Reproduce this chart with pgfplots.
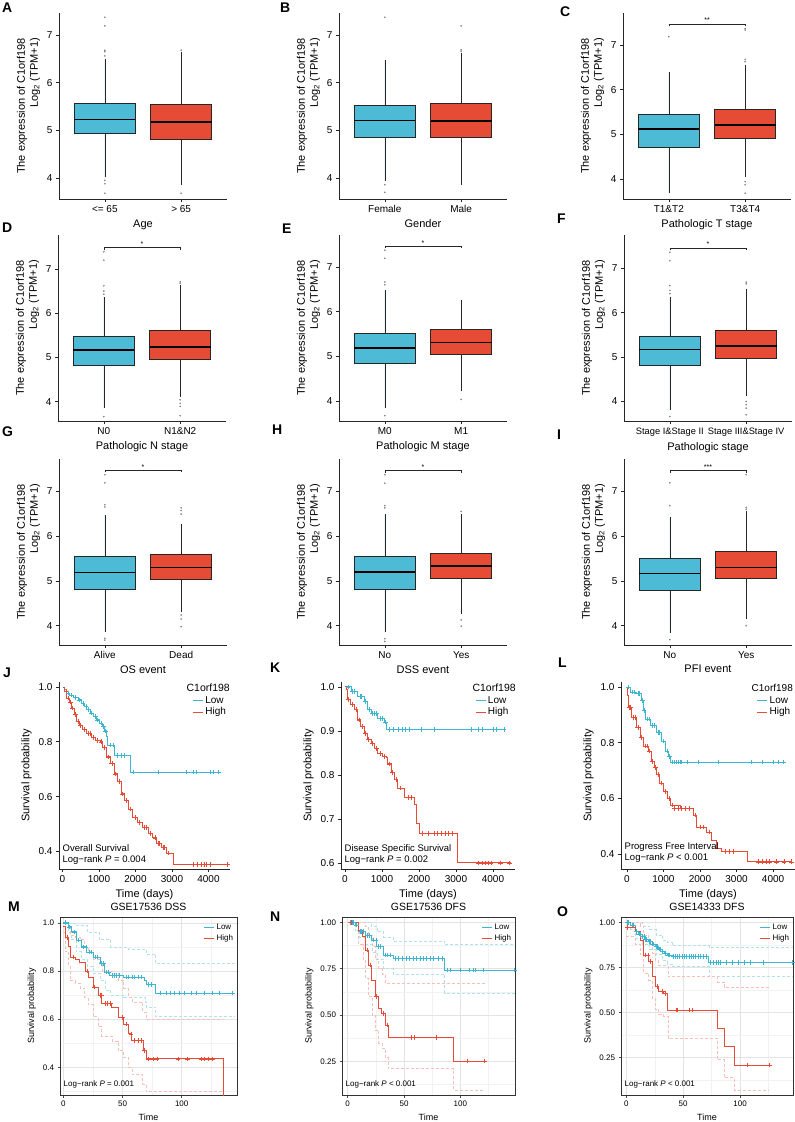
\documentclass[border=0pt]{standalone}
\usepackage{fontspec}
\setmainfont{Liberation Sans}
\usepackage{pgfplots}
\pgfplotsset{compat=1.18}
\usepgfplotslibrary{statistics}
\definecolor{npgred}{HTML}{E64B35}
\definecolor{npgblue}{HTML}{4DBBD5}
\definecolor{kmblue}{HTML}{3DB4D0}
\definecolor{kmred}{HTML}{E64B35}
\newcommand{\fs}[2]{\fontsize{#1}{#2}\selectfont}
\pgfplotsset{
  boxplot/every median/.style={line width=1.5pt, draw=black},
  boxplot/every whisker/.style={line width=0.6pt, draw=black!85},
  boxplot/every box/.style={line width=0.6pt, draw=black!85},
  bx/.style={
    scale only axis, width=168pt, height=186pt, anchor=south west,
    axis x line=bottom, axis y line=left,
    axis line style={-, line width=0.6pt, black!85},
    xmin=-0.6, xmax=1.6, xtick={0,1}, ytick={4,5,6,7},
    tick align=outside, major tick length=3pt,
    tick style={line width=0.6pt, black!85},
    tick label style={font=\fs{10}{12}},
    label style={font=\fs{11}{13}},
    ylabel={The expression of C1orf198\\Log\textsubscript{2} (TPM+1)},
    ylabel style={align=right},
    /pgf/number format/assume math mode=true,
    clip=false,
  },
  km/.style={
    scale only axis, height=187pt, anchor=south west,
    axis x line=bottom, axis y line=left,
    axis line style={-, line width=0.6pt, black!85},
    tick align=outside, major tick length=3pt, tick style={line width=0.6pt, black!85},
    xtick={0,1000,2000,3000,4000},
    scaled x ticks=false,
    xticklabel style={/pgf/number format/1000 sep={}},
    yticklabel style={/pgf/number format/.cd, fixed, fixed zerofill, precision=1},
    tick label style={font=\fs{10}{12}},
    label style={font=\fs{11}{13}},
    xlabel={Time (days)}, ylabel={Survival probability},
    /pgf/number format/assume math mode=true,
    legend style={draw=none, fill=none, font=\fs{10}{11}, inner sep=0pt, row sep=-1pt, anchor=north west},
    legend cell align=left,
    legend image code/.code={\draw[##1, line width=0.8pt] (0pt,0pt) -- (10pt,0pt);},
  },
  km2/.style={
    scale only axis, height=178pt, anchor=south west,
    axis line style={line width=0.6pt, black!80},
    grid=both, major grid style={gray!22, line width=0.5pt}, minor grid style={gray!10, line width=0.4pt},
    tick pos=left, tick align=outside, major tick length=2.5pt, minor tick length=0pt,
    tick style={line width=0.5pt, black!70},
    xtick={0,50,100}, minor xtick={25,75,125},
    tick label style={font=\fs{8}{9}},
    label style={font=\fs{9}{10}},
    title style={font=\fs{10.5}{12}, yshift=-3pt},
    xlabel={Time}, ylabel={Survival probability},
    /pgf/number format/assume math mode=true,
    legend style={draw=none, fill=none, font=\fs{8}{9}, inner sep=0pt, row sep=0pt, at={(rel axis cs:0.99,0.975)}, anchor=north east},
    legend cell align=left,
    legend image code/.code={\draw[##1, line width=0.8pt] (0pt,0pt) -- (10pt,0pt);},
  },
  kmline/.style={const plot, line width=0.8pt, draw=#1, color=#1, mark=none},
  kmcens/.style={only marks, mark=+, mark size=2.3pt, color=#1, mark options={draw=#1, line width=0.5pt}, forget plot},
  ci/.style={const plot, dash pattern=on 3pt off 2pt, line width=0.5pt, color=#1, forget plot, mark=none},
}
\newcommand{\bxp}[8]{\addplot[boxplot/draw direction=y, boxplot prepared={draw position=#1, lower whisker=#3, lower quartile=#4, median=#5, upper quartile=#6, upper whisker=#7, box extend=0.8, whisker extend=0}, fill=#2, draw=black!85, line width=0.6pt, mark=*, mark size=0.75pt, mark options={draw=gray, fill=gray, line width=0.1pt}] coordinates {#8};}
\newcommand{\sig}[3]{\addplot[black!85, line width=0.5pt, mark=none] coordinates {(0,#1)(0,#2)(1,#2)(1,#1)};
  \node[font=\fs{7}{8}, anchor=south, inner sep=1pt] at (axis cs:0.5,#2) {#3};}
\newcommand{\plab}[3]{\node[font=\bfseries\fs{14}{16}, anchor=north west, inner sep=0pt] at (#1pt,-#2pt) {#3};}
\begin{document}
\begin{tikzpicture}
\useasboundingbox (0pt,0pt) rectangle (795pt,-1122pt);
% ---------------- Row 1 ----------------
\begin{axis}[bx, at={(59pt,-199pt)}, ymin=3.56, ymax=7.46, xticklabels={<= 65, > 65}, xlabel={Age}]
\bxp{0}{npgblue}{4.02}{4.93}{5.23}{5.56}{6.5}{(0,7.37)(0,7.19)(0,6.68)(0,6.65)(0,6.56)(0,3.95)(0,3.88)(0,3.68)}
\bxp{1}{npgred}{3.85}{4.81}{5.17}{5.54}{6.65}{(1,6.68)(1,3.68)}
\end{axis}
\begin{axis}[bx, at={(339pt,-199pt)}, ymin=3.56, ymax=7.46, xticklabels={Female, Male}, xlabel={Gender}]
\bxp{0}{npgblue}{3.93}{4.86}{5.21}{5.53}{6.48}{(0,7.37)(0,3.86)(0,3.70)}
\bxp{1}{npgred}{3.86}{4.86}{5.20}{5.57}{6.62}{(1,7.19)(1,6.69)(1,6.66)}
\end{axis}
\begin{axis}[bx, at={(623pt,-199pt)}, ymin=3.55, ymax=7.72, xticklabels={T1\&T2, T3\&T4}, xlabel={Pathologic T stage}]
\bxp{0}{npgblue}{3.69}{4.72}{5.12}{5.45}{6.40}{(0,7.19)}
\bxp{1}{npgred}{4.05}{4.91}{5.21}{5.57}{6.55}{(1,7.37)(1,7.34)(1,6.68)(1,6.63)(1,3.94)(1,3.87)(1,3.68)}
\sig{7.42}{7.47}{**}
\end{axis}
% ---------------- Row 2 ----------------
\begin{axis}[bx, at={(58pt,-421pt)}, ymin=3.56, ymax=7.77, xticklabels={N0, N1\&N2}, xlabel={Pathologic N stage}]
\bxp{0}{npgblue}{3.85}{4.81}{5.17}{5.47}{6.37}{(0,7.39)(0,7.2)(0,6.62)(0,6.5)(0,6.43)(0,3.66)}
\bxp{1}{npgred}{4.11}{4.96}{5.24}{5.61}{6.64}{(1,6.71)(1,6.68)(1,4.04)(1,3.96)(1,3.89)(1,3.68)}
\sig{7.43}{7.49}{*}
\end{axis}
\begin{axis}[bx, at={(339pt,-421pt)}, ymin=3.56, ymax=7.71, xticklabels={M0, M1}, xlabel={Pathologic M stage}]
\bxp{0}{npgblue}{3.84}{4.85}{5.19}{5.52}{6.48}{(0,7.37)(0,7.19)(0,6.66)(0,6.6)(0,3.68)}
\bxp{1}{npgred}{4.22}{5.04}{5.31}{5.60}{6.25}{(1,4.04)}
\sig{7.41}{7.46}{*}
\end{axis}
\begin{axis}[bx, at={(624pt,-421pt)}, ymin=3.56, ymax=7.75, xticklabels={Stage I\&Stage II, Stage III\&Stage IV}, xlabel={Pathologic stage}, xticklabel style={font=\fs{9.3}{11}}]
\bxp{0}{npgblue}{3.81}{4.81}{5.17}{5.46}{6.35}{(0,7.36)(0,7.17)(0,6.61)(0,6.5)(0,6.43)(0,3.66)}
\bxp{1}{npgred}{4.13}{4.97}{5.25}{5.60}{6.54}{(1,6.69)(1,6.65)(1,4.0)(1,3.93)(1,3.85)(1,3.7)}
\sig{7.41}{7.46}{*}
\end{axis}
% ---------------- Row 3 ----------------
\begin{axis}[bx, at={(59pt,-645pt)}, ymin=3.57, ymax=7.72, xticklabels={Alive, Dead}, xlabel={OS event}]
\bxp{0}{npgblue}{3.87}{4.81}{5.19}{5.54}{6.48}{(0,7.37)(0,7.19)(0,6.7)(0,6.65)(0,3.72)(0,3.68)}
\bxp{1}{npgred}{4.31}{5.04}{5.30}{5.60}{6.27}{(1,6.63)(1,6.57)(1,6.49)(1,4.24)(1,4.15)(1,3.98)}
\sig{7.42}{7.47}{*}
\end{axis}
\begin{axis}[bx, at={(339pt,-645pt)}, ymin=3.57, ymax=7.72, xticklabels={No, Yes}, xlabel={DSS event}]
\bxp{0}{npgblue}{3.85}{4.82}{5.20}{5.54}{6.49}{(0,7.37)(0,7.18)(0,6.68)(0,6.63)(0,3.71)(0,3.65)}
\bxp{1}{npgred}{4.26}{5.05}{5.33}{5.61}{6.49}{(1,6.55)(1,4.13)(1,3.99)}
\sig{7.41}{7.46}{*}
\end{axis}
\begin{axis}[bx, at={(624pt,-645pt)}, ymin=3.57, ymax=7.72, xticklabels={No, Yes}, xlabel={PFI event}]
\bxp{0}{npgblue}{3.84}{4.79}{5.16}{5.50}{6.42}{(0,7.19)(0,6.68)(0,3.69)}
\bxp{1}{npgred}{4.15}{5.05}{5.30}{5.65}{6.57}{(1,7.37)(1,6.64)(1,6.6)(1,4.0)}
\sig{7.41}{7.46}{***}
\end{axis}
% ---------------- Row 4 ----------------
\begin{axis}[km, at={(59pt,-869pt)}, width=171pt, xmin=-96, xmax=4590, ymin=0.336, ymax=1.018, ytick={0.4,0.6,0.8,1.0},
  legend style={at={(rel axis cs:0.78,0.935)}}]
\addplot[kmline=kmblue] coordinates {(0,1.0)(60,0.99)(115,0.978)(200,0.97)(300,0.962)(433,0.953)(520,0.94)(600,0.928)(663,0.917)(760,0.905)(850,0.893)(937,0.88)(1000,0.868)(1080,0.855)(1150,0.84)(1211,0.818)(1237,0.788)(1420,0.75)(1850,0.69)(4320,0.69)};
\addlegendentry{Low}
\addplot[kmline=kmred] coordinates {(0,1.0)(50,0.985)(115,0.96)(180,0.945)(252,0.923)(320,0.9)(389,0.874)(450,0.86)(550,0.845)(663,0.83)(800,0.815)(900,0.805)(1028,0.8)(1100,0.78)(1211,0.745)(1300,0.72)(1420,0.683)(1500,0.655)(1603,0.61)(1700,0.585)(1800,0.555)(1923,0.524)(2050,0.505)(2197,0.487)(2350,0.465)(2471,0.45)(2580,0.43)(2700,0.415)(2855,0.394)(3036,0.353)(4530,0.353)};
\addlegendentry{High}
\addplot[kmcens=kmblue] coordinates {(150,0.978)(250,0.97)(350,0.962)(470,0.953)(560,0.94)(640,0.928)(700,0.917)(800,0.905)(900,0.893)(960,0.88)(1050,0.868)(1120,0.855)(1180,0.84)(1300,0.788)(1380,0.788)(1500,0.75)(1600,0.75)(1700,0.75)(1940,0.69)(2625,0.69)(3400,0.69)(3585,0.69)(3675,0.69)(4040,0.69)(4130,0.69)(4270,0.69)};
\addplot[kmcens=kmred] coordinates {(100,0.985)(150,0.96)(220,0.945)(280,0.923)(350,0.9)(420,0.874)(500,0.86)(600,0.845)(700,0.83)(750,0.83)(850,0.815)(950,0.805)(1050,0.8)(1150,0.78)(1250,0.745)(1350,0.72)(1450,0.683)(1550,0.655)(1650,0.61)(1750,0.585)(1850,0.555)(2000,0.524)(2100,0.505)(2250,0.487)(2300,0.487)(2400,0.465)(2530,0.45)(2620,0.43)(2650,0.43)(2750,0.415)(2800,0.415)(2900,0.394)(3584,0.353)(3700,0.353)(3812,0.353)(3880,0.353)(3931,0.353)(4059,0.353)(4520,0.353)};
\node[anchor=west, font=\fs{10.5}{12}, inner sep=0pt] at (rel axis cs:0.745,0.968) {C1orf198};
\node[anchor=south west, align=left, font=\fs{9.5}{11}, inner sep=0pt] at (rel axis cs:0.02,0.025) {Overall Survival\\Log−rank \textit{P} = 0.004};
\end{axis}
\begin{axis}[km, at={(341pt,-869pt)}, width=174pt, xmin=-108, xmax=4595, ymin=0.586, ymax=1.011, ytick={0.6,0.7,0.8,0.9,1.0},
  legend style={at={(rel axis cs:0.77,0.935)}}]
\addplot[kmline=kmblue] coordinates {(0,1.0)(162,0.99)(343,0.978)(523,0.967)(613,0.948)(703,0.94)(883,0.928)(1063,0.92)(1108,0.903)(4310,0.903)};
\addlegendentry{Low}
\addplot[kmline=kmred] coordinates {(0,1.0)(40,0.994)(72,0.971)(150,0.96)(252,0.948)(343,0.925)(420,0.91)(523,0.894)(600,0.88)(703,0.871)(800,0.86)(883,0.848)(1000,0.842)(1108,0.84)(1153,0.825)(1243,0.805)(1330,0.79)(1423,0.77)(1603,0.748)(1874,0.732)(1919,0.69)(2009,0.667)(3045,0.6)(4490,0.6)};
\addlegendentry{High}
\addplot[kmcens=kmblue] coordinates {(80,1.0)(200,0.99)(250,0.99)(400,0.978)(450,0.978)(560,0.967)(650,0.948)(750,0.94)(800,0.94)(850,0.94)(950,0.928)(1000,0.928)(1100,0.92)(1200,0.903)(1300,0.903)(1450,0.903)(1550,0.903)(1620,0.903)(1750,0.903)(2050,0.903)(2400,0.903)(3400,0.903)(3600,0.903)(3700,0.903)(4000,0.903)(4100,0.903)(4300,0.903)};
\addplot[kmcens=kmred] coordinates {(100,0.971)(200,0.96)(300,0.948)(380,0.925)(460,0.91)(560,0.894)(640,0.88)(750,0.871)(850,0.86)(950,0.848)(1050,0.842)(1200,0.825)(1280,0.805)(1380,0.79)(1500,0.77)(1700,0.748)(1800,0.748)(2100,0.667)(2250,0.667)(2400,0.667)(2500,0.667)(2600,0.667)(2700,0.667)(2800,0.667)(2900,0.667)(3600,0.6)(3700,0.6)(3800,0.6)(3870,0.6)(3950,0.6)(4200,0.6)(4450,0.6)};
\node[anchor=west, font=\fs{10.5}{12}, inner sep=0pt] at (rel axis cs:0.755,0.968) {C1orf198};
\node[anchor=south west, align=left, font=\fs{9.5}{11}, inner sep=0pt] at (rel axis cs:0.02,0.025) {Disease Specific Survival\\Log−rank \textit{P} = 0.002};
\end{axis}
\begin{axis}[km, at={(621pt,-869pt)}, width=174pt, xmin=-159, xmax=4600, ymin=0.346, ymax=1.018, ytick={0.4,0.6,0.8,1.0},
  legend style={at={(rel axis cs:0.78,0.935)}}]
\addplot[kmline=kmblue] coordinates {(0,1.0)(88,0.982)(271,0.976)(408,0.952)(452,0.915)(499,0.885)(636,0.861)(819,0.836)(956,0.806)(1047,0.77)(1137,0.75)(1184,0.73)(4290,0.73)};
\addlegendentry{Low}
\addplot[kmline=kmred] coordinates {(0,1.0)(10,0.994)(20,0.97)(41,0.927)(134,0.89)(271,0.855)(362,0.818)(452,0.788)(589,0.77)(682,0.733)(750,0.71)(819,0.685)(900,0.655)(1000,0.624)(1100,0.6)(1184,0.576)(1458,0.564)(1822,0.54)(1915,0.497)(2189,0.479)(2326,0.448)(2463,0.42)(2600,0.41)(3285,0.372)(4518,0.372)};
\addlegendentry{High}
\addplot[kmcens=kmblue] coordinates {(50,1.0)(150,0.982)(200,0.982)(300,0.976)(350,0.976)(430,0.952)(470,0.915)(550,0.885)(600,0.885)(700,0.861)(750,0.861)(850,0.836)(900,0.836)(1000,0.806)(1100,0.77)(1160,0.75)(1250,0.73)(1300,0.73)(1350,0.73)(1400,0.73)(1450,0.73)(1500,0.73)(1650,0.73)(1950,0.73)(2500,0.73)(3400,0.73)(3700,0.73)(4000,0.73)(4150,0.73)(4290,0.73)};
\addplot[kmcens=kmred] coordinates {(60,0.927)(100,0.927)(180,0.89)(220,0.89)(300,0.855)(400,0.818)(500,0.788)(550,0.788)(620,0.77)(700,0.733)(780,0.71)(850,0.685)(950,0.655)(1050,0.624)(1150,0.6)(1250,0.576)(1300,0.564)(1400,0.564)(1500,0.564)(1600,0.564)(1700,0.564)(1870,0.54)(2000,0.497)(2100,0.497)(2250,0.479)(2700,0.41)(2800,0.41)(2900,0.41)(3600,0.372)(3700,0.372)(3800,0.372)(3900,0.372)(4100,0.372)(4300,0.372)(4500,0.372)};
\node[anchor=west, font=\fs{10}{12}, inner sep=0pt] at (rel axis cs:0.75,0.968) {C1orf198};
\node[anchor=south west, align=left, font=\fs{9.5}{11}, inner sep=0pt] at (rel axis cs:0.02,0.035) {Progress Free Interval\\Log−rank \textit{P} < 0.001};
\end{axis}
% ---------------- Row 5 ----------------
\begin{axis}[km2, at={(60pt,-1095pt)}, width=177pt, xmin=-2.8, xmax=146.7, ymin=0.285, ymax=1.024,
  ytick={0.4,0.6,0.8,1.0}, minor ytick={0.3,0.5,0.7,0.9}, title={GSE17536 DSS},
  yticklabel style={/pgf/number format/.cd, fixed, fixed zerofill, precision=1}]
\addplot[ci=kmblue!40] coordinates {(0,1.0)(10,0.99)(20,0.96)(30,0.93)(40,0.9)(55,0.89)(70,0.87)(78,0.83)(145,0.83)};
\addplot[ci=kmblue!40] coordinates {(0,1.0)(4,0.96)(7,0.93)(11,0.88)(15,0.85)(20,0.82)(25,0.79)(31,0.76)(35,0.72)(40,0.7)(51,0.69)(69,0.67)(70,0.65)(78,0.61)(145,0.61)};
\addplot[ci=kmred!35] coordinates {(0,1.0)(4,0.98)(6,0.95)(10,0.94)(14,0.93)(18,0.9)(21,0.88)(25,0.85)(30,0.83)(33,0.8)(41,0.79)(46,0.76)(51,0.73)(55,0.69)(58,0.67)(67,0.63)(70,0.6)(135,0.6)};
\addplot[ci=kmred!35] coordinates {(0,0.96)(1.4,0.88)(4.2,0.82)(5.6,0.76)(10,0.75)(14,0.73)(18,0.69)(21,0.66)(25,0.61)(29.5,0.57)(32.3,0.53)(41,0.51)(46,0.47)(51,0.44)(55,0.4)(58,0.37)(67,0.33)(70,0.3)(135,0.3)};
\addplot[kmline=kmblue] coordinates {(0,1.0)(4.2,0.983)(7,0.9625)(11.2,0.928)(15.4,0.9)(19.7,0.879)(25.3,0.858)(30.9,0.83)(35.1,0.796)(39.3,0.782)(50.6,0.775)(68.8,0.761)(70.2,0.743)(78,0.708)(144.7,0.708)};
\addlegendentry{Low}
\addplot[kmline=kmred] coordinates {(0,0.986)(1.4,0.94)(4.2,0.9)(5.6,0.858)(9.8,0.85)(14,0.837)(18.3,0.8)(21,0.775)(25.3,0.733)(29.5,0.699)(32.3,0.664)(40.7,0.65)(46.3,0.608)(50.6,0.58)(54.8,0.539)(57.6,0.511)(67.4,0.469)(70.2,0.435)(135.4,0.25)};
\addlegendentry{High}
\addplot[kmcens=kmblue] coordinates {(2,1.0)(5,0.983)(9,0.9625)(13,0.928)(17,0.9)(19,0.9)(22,0.879)(24,0.879)(27,0.858)(29,0.858)(32,0.83)(34,0.83)(36,0.796)(38,0.796)(41,0.782)(43,0.782)(45,0.782)(47,0.782)(53,0.775)(55,0.775)(58,0.775)(60,0.775)(63,0.775)(66,0.775)(72,0.743)(74,0.743)(81.5,0.708)(87,0.708)(90,0.708)(94,0.708)(98,0.708)(102.5,0.708)(108,0.708)(112,0.708)(119,0.708)(126,0.708)(132,0.708)(143,0.708)};
\addplot[kmcens=kmred] coordinates {(3,0.94)(8,0.858)(20,0.8)(26,0.733)(31,0.699)(32,0.699)(35,0.664)(37,0.664)(40,0.664)(50,0.608)(53,0.58)(57,0.539)(60,0.511)(63,0.511)(66,0.511)(68,0.469)(72,0.435)(76,0.435)(79,0.435)(97,0.435)(105,0.435)(116.6,0.435)(119,0.435)(122,0.435)(126,0.435)};
\node[anchor=south west, font=\fs{8}{9}, inner sep=0pt] at (rel axis cs:0.02,0.035) {Log−rank \textit{P} = 0.001};
\end{axis}
\begin{axis}[km2, at={(342pt,-1095pt)}, width=173pt, xmin=-5, xmax=148.4, ymin=0.068, ymax=1.029,
  ytick={0.25,0.5,0.75,1.0}, minor ytick={0.125,0.375,0.625,0.875}, title={GSE17536 DFS},
  yticklabel style={/pgf/number format/.cd, fixed, fixed zerofill, precision=2}]
\addplot[ci=kmblue!40] coordinates {(0,1.0)(21,0.98)(26,0.95)(32,0.92)(40,0.9)(86,0.88)(148,0.88)};
\addplot[ci=kmblue!40] coordinates {(0,1.0)(7,0.96)(10,0.92)(16,0.88)(21.5,0.84)(26,0.8)(32,0.75)(40.6,0.72)(86,0.62)(148,0.62)};
\addplot[ci=kmred!35] coordinates {(0,1.0)(15.6,0.98)(18.5,0.93)(21.5,0.87)(24.4,0.8)(27.4,0.75)(30.3,0.72)(33.2,0.67)(121.5,0.67)};
\addplot[ci=kmred!35] coordinates {(0,1.0)(9.7,0.88)(13.5,0.8)(15.6,0.7)(18.5,0.6)(21.5,0.5)(24.4,0.42)(27.4,0.35)(30.3,0.32)(33.2,0.27)(36.2,0.21)(94,0.095)(121.5,0.095)};
\addplot[kmline=kmblue] coordinates {(0,1.0)(6.8,0.986)(9.7,0.95)(15.6,0.93)(21.5,0.905)(25.9,0.87)(31.8,0.824)(40.6,0.806)(86.2,0.743)(148,0.743)};
\addlegendentry{Low}
\addplot[kmline=kmred] coordinates {(0,1.0)(9.7,0.959)(13.5,0.923)(15.6,0.851)(18.5,0.77)(21.5,0.689)(24.4,0.6)(27.4,0.536)(30.3,0.509)(33.2,0.446)(36.2,0.38)(94,0.252)(121.5,0.252)};
\addlegendentry{High}
\addplot[kmcens=kmblue] coordinates {(2,1.0)(4,1.0)(5,1.0)(8,0.986)(11,0.95)(12,0.95)(14,0.95)(17,0.93)(19,0.93)(23,0.905)(25,0.905)(27,0.87)(29,0.87)(33,0.824)(35,0.824)(38,0.824)(42,0.806)(45,0.806)(48,0.806)(52,0.806)(55,0.806)(58,0.806)(61,0.806)(64,0.806)(67,0.806)(70,0.806)(73,0.806)(76,0.806)(80,0.806)(84,0.806)(88,0.743)(91,0.743)(100,0.743)(108,0.743)(111,0.743)(113,0.743)(120,0.743)(148,0.743)};
\addplot[kmcens=kmred] coordinates {(3,1.0)(17,0.851)(20,0.77)(25,0.6)(32,0.509)(35,0.446)(56,0.38)(59,0.38)(79,0.38)(106,0.252)(121.5,0.252)};
\node[anchor=south west, font=\fs{8}{9}, inner sep=0pt] at (rel axis cs:0.02,0.035) {Log−rank \textit{P} < 0.001};
\end{axis}
\begin{axis}[km2, at={(621pt,-1095pt)}, width=172pt, xmin=-4.6, xmax=146.5, ymin=0.043, ymax=1.029,
  ytick={0.25,0.5,0.75,1.0}, minor ytick={0.125,0.375,0.625,0.875}, title={GSE14333 DFS},
  yticklabel style={/pgf/number format/.cd, fixed, fixed zerofill, precision=2}]
\addplot[ci=kmblue!40] coordinates {(0,1.0)(14,0.98)(20,0.96)(26,0.93)(32,0.9)(36,0.89)(40,0.87)(72.6,0.86)(148,0.86)};
\addplot[ci=kmblue!40] coordinates {(0,1.0)(3.5,0.96)(8,0.91)(14,0.88)(20,0.85)(26,0.82)(32,0.79)(36,0.77)(40,0.755)(72.6,0.70)(148,0.70)};
\addplot[ci=kmred!35] coordinates {(0,1.0)(12.4,0.98)(15.3,0.93)(19.7,0.9)(22.6,0.83)(25.6,0.79)(28.5,0.76)(36.5,0.7)(80,0.67)(86,0.64)(125.6,0.64)};
\addplot[ci=kmred!35] coordinates {(0,0.92)(7.9,0.88)(12.4,0.82)(15.3,0.72)(19.7,0.68)(22.6,0.58)(25.6,0.52)(28.5,0.49)(32.9,0.48)(36.5,0.36)(80,0.24)(86,0.14)(95,0.07)(125.6,0.07)};
\addplot[kmline=kmblue] coordinates {(0,1.0)(3.5,0.985)(7.9,0.948)(10.8,0.934)(13.8,0.92)(16.7,0.906)(19.7,0.893)(22.6,0.879)(25.6,0.865)(28.5,0.851)(31.5,0.837)(33.7,0.828)(35.9,0.819)(40.3,0.81)(72.6,0.776)(147.6,0.776)};
\addlegendentry{Low}
\addplot[kmline=kmred] coordinates {(0,0.972)(7.9,0.948)(12.4,0.902)(15.3,0.819)(19.7,0.782)(22.6,0.699)(25.6,0.643)(28.5,0.616)(32.9,0.606)(35.9,0.56)(36.5,0.514)(80,0.412)(85.9,0.31)(94.7,0.209)(125.6,0.209)};
\addlegendentry{High}
\addplot[kmcens=kmblue] coordinates {(1,1.0)(2,1.0)(5,0.985)(6,0.985)(9,0.948)(11,0.934)(12,0.934)(14.5,0.92)(15.5,0.92)(17,0.906)(18,0.906)(20,0.893)(21,0.893)(23,0.879)(24,0.879)(26,0.865)(27,0.865)(29,0.851)(30,0.851)(32,0.837)(34,0.828)(36.5,0.819)(38,0.819)(41,0.81)(43,0.81)(45,0.81)(47,0.81)(49,0.81)(51,0.81)(53,0.81)(55,0.81)(57,0.81)(59,0.81)(61,0.81)(63,0.81)(65,0.81)(68,0.81)(70,0.81)(74,0.776)(76,0.776)(79,0.776)(81,0.776)(83,0.776)(88,0.776)(93,0.776)(98,0.776)(104,0.776)(109,0.776)(120,0.776)(146,0.776)};
\addplot[kmcens=kmred] coordinates {(0.5,0.972)(17,0.819)(19,0.819)(21,0.782)(27,0.643)(32,0.616)(34,0.606)(44,0.514)(45,0.514)(55,0.514)(58,0.514)(106,0.209)(125.6,0.209)};
\node[anchor=south west, font=\fs{8}{9}, inner sep=0pt] at (rel axis cs:0.02,0.035) {Log−rank \textit{P} < 0.001};
\end{axis}
% ---------------- Panel letters ----------------
\plab{2}{3}{A}
\plab{280}{3}{B}
\plab{560}{7}{C}
\plab{2}{223}{D}
\plab{282}{224}{E}
\plab{557}{214}{F}
\plab{2}{427}{G}
\plab{272}{425}{H}
\plab{557}{430}{I}
\plab{3}{668}{J}
\plab{270}{663}{K}
\plab{558}{658}{L}
\plab{8}{902}{M}
\plab{270}{912}{N}
\plab{557}{907}{O}
\end{tikzpicture}
\end{document}
